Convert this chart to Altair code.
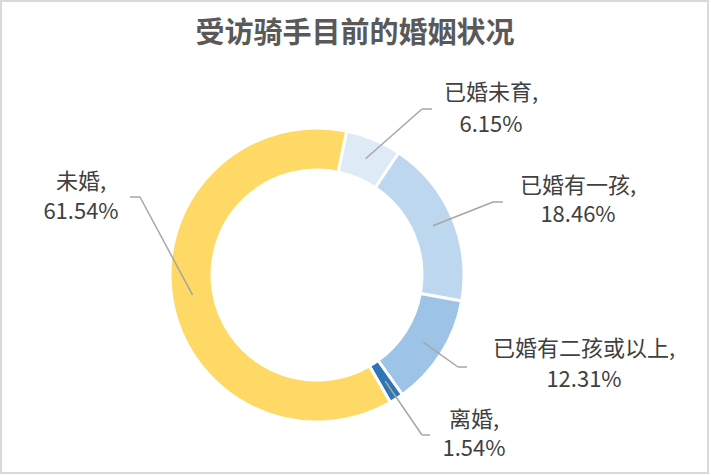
import altair as alt
import pandas as pd
import math

# ---- data ----
categories = ["已婚未育", "已婚有一孩", "已婚有二孩或以上", "离婚", "未婚"]
values = [6.15, 18.46, 12.31, 1.54, 61.54]
colors = ["#DEEBF7", "#BDD7EE", "#9DC3E6", "#2E75B6", "#FFD966"]
title_text = "受访骑手目前的婚姻状况"

# ---- layout (pixels) ----
W, H = 711, 475
CX, CY = 317, 275
R_OUT, R_IN = 147, 105
START_DEG = 11.6
LEADER_R = 126
elbow_x = [422, 493, 458, 422, 140]
elbow_y = [109, 202, 367, 435, 197]
end_x = [432, 503, 467, 430, 130]
label_x = [491, 578, 584, 474, 81]
name_y = [93, 186, 349, 420, 182]
pct_y = [125, 215, 380, 449, 212]

start = math.radians(START_DEG)

df = pd.DataFrame({
    "cat": categories,
    "value": values,
    "ord": list(range(len(categories))),
    "ex": elbow_x, "ey": elbow_y, "endx": end_x,
    "lx": label_x, "ny": name_y, "py": pct_y,
})

base = alt.Chart(df)

arcs = base.mark_arc(
    outerRadius=R_OUT, innerRadius=R_IN, stroke="white", strokeWidth=3
).encode(
    theta=alt.Theta("value:Q", stack=True,
                    scale=alt.Scale(range=[start, start + 2 * math.pi])),
    color=alt.Color("cat:N", scale=alt.Scale(domain=categories, range=colors), legend=None),
    order=alt.Order("ord:Q"),
    x=alt.value(CX), y=alt.value(CY),
)

lead = base.transform_window(
    cum="sum(value)", sort=[alt.SortField("ord")], frame=[None, 0]
).transform_joinaggregate(
    total="sum(value)"
).transform_calculate(
    ang=f"{start} + (datum.cum - datum.value/2) / datum.total * 2 * PI",
).transform_calculate(
    sx=f"{CX} + {LEADER_R} * sin(datum.ang)",
    sy=f"{CY} - {LEADER_R} * cos(datum.ang)",
)

line1 = lead.mark_rule(color="#A6A6A6", strokeWidth=1.5).encode(
    x=alt.X("sx:Q", scale=None), y=alt.Y("sy:Q", scale=None),
    x2="ex:Q", y2="ey:Q",
)
line2 = base.mark_rule(color="#A6A6A6", strokeWidth=1.5).encode(
    x=alt.X("ex:Q", scale=None), y=alt.Y("ey:Q", scale=None),
    x2="endx:Q", y2="ey:Q",
)

font = "Noto Sans CJK SC"
names = base.transform_calculate(t="datum.cat + ','").mark_text(
    font=font, fontSize=22, color="#404040", align="center", baseline="middle"
).encode(
    x=alt.X("lx:Q", scale=None), y=alt.Y("ny:Q", scale=None), text="t:N"
)
pcts = base.transform_calculate(t="format(datum.value, '.2f') + '%'").mark_text(
    font=font, fontSize=22, color="#404040", align="center", baseline="middle"
).encode(
    x=alt.X("lx:Q", scale=None), y=alt.Y("py:Q", scale=None), text="t:N"
)

title = alt.Chart(pd.DataFrame({"t": [title_text]})).mark_text(
    font=font, fontSize=29, fontWeight="bold", color="#595959",
    align="center", baseline="middle"
).encode(x=alt.value(355), y=alt.value(34), text="t:N")

border = alt.Chart(pd.DataFrame({"a": [0]})).mark_rect(
    fill="white", stroke="#D9D9D9", strokeWidth=2
).encode(x=alt.value(1), x2=alt.value(708), y=alt.value(1), y2=alt.value(473))

chart = alt.layer(border, arcs, line1, line2, names, pcts, title).properties(
    width=W, height=H, padding=0, autosize="none", background="white"
).configure_view(stroke=None)

chart.save("out.html", embed_options={"renderer": "svg", "actions": False})
